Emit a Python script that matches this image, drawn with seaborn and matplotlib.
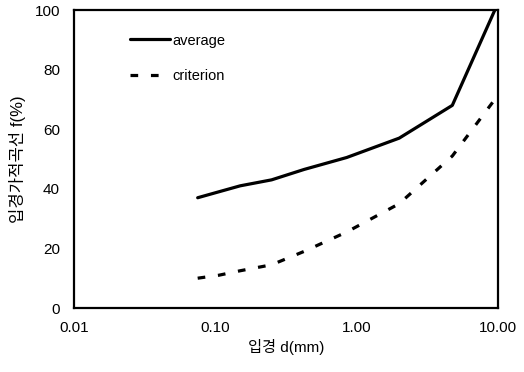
import matplotlib
matplotlib.use("Agg")
import matplotlib.pyplot as plt
import seaborn as sns
import pandas as pd
from matplotlib.ticker import FixedLocator, FixedFormatter, NullLocator

sizes = [0.075, 0.106, 0.15, 0.25, 0.425, 0.85, 2.0, 4.75, 9.5]
average = [37, 39, 41, 43, 46.5, 50.5, 57, 68, 100]
criterion = [10, 11, 12.5, 14.5, 19, 25.5, 35, 51, 70]
series_names = ["average", "criterion"]
xticks = [0.01, 0.1, 1, 10]
xticklabels = ["0.01", "0.10", "1.00", "10.00"]
yticks = [0, 20, 40, 60, 80, 100]

sns.set_theme(style="white")
plt.rcParams['font.family'] = ['Liberation Sans', 'Noto Sans CJK KR', 'DejaVu Sans']

df = pd.DataFrame({
    "d": sizes * 2,
    "f": average + criterion,
    "series": [series_names[0]] * len(sizes) + [series_names[1]] * len(sizes),
})

fig = plt.figure(figsize=(5.24, 3.72), dpi=100)
ax = fig.add_axes([74/524, 1 - 308/372, (498-74)/524, (308-10)/372])

sns.lineplot(data=df, x="d", y="f", hue="series", style="series",
             palette={"average": "black", "criterion": "black"},
             dashes={"average": "", "criterion": (2.4, 4.0)},
             linewidth=2.3, ax=ax, legend=True)

ax.set_xscale("log")
ax.set_xlim(0.01, 10)
ax.set_ylim(0, 100)
ax.xaxis.set_major_locator(FixedLocator(xticks))
ax.xaxis.set_major_formatter(FixedFormatter(xticklabels))
ax.xaxis.set_minor_locator(NullLocator())
ax.set_yticks(yticks)
ax.tick_params(axis="x", direction="in", length=3, width=1, pad=9, labelsize=11, colors="black")
ax.tick_params(axis="y", direction="in", length=0, pad=10, labelsize=11, colors="black")
for s in ax.spines.values():
    s.set_color("black")
    s.set_linewidth(1.6)

ax.set_xlabel("입경 d(mm)", fontsize=11, color="black", labelpad=3)
ax.set_ylabel("입경가적곡선 f(%)", fontsize=12, color="black", labelpad=6)

leg = ax.legend(loc="upper left", bbox_to_anchor=(0.1, 0.965), frameon=False,
                handlelength=2.8, handletextpad=0.15, labelspacing=1.5, fontsize=10.5)
for t in leg.get_texts():
    t.set_color("black")

fig.savefig("out.png", dpi=100)
